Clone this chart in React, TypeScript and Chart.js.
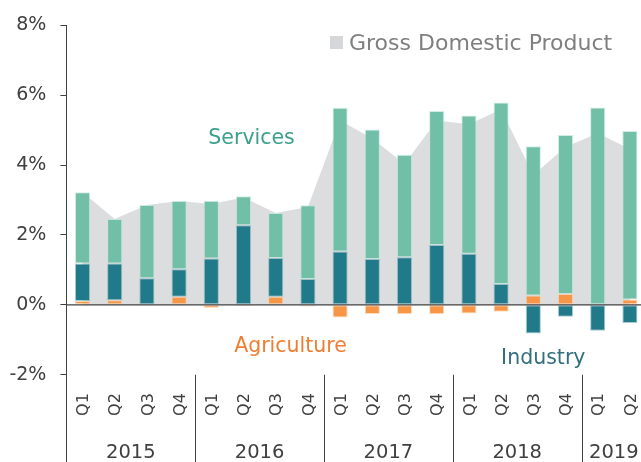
import React, { useEffect, useRef } from 'react';
import { Chart, registerables } from 'chart.js';

Chart.register(...registerables);

const quarters = ['Q1', 'Q2', 'Q3', 'Q4', 'Q1', 'Q2', 'Q3', 'Q4', 'Q1', 'Q2', 'Q3', 'Q4', 'Q1', 'Q2', 'Q3', 'Q4', 'Q1', 'Q2'];
const years = ['2015', '2016', '2017', '2018', '2019'];
const yearSpans = [4, 4, 4, 4, 2];

const agriculture = [0.11, 0.13, 0.0, 0.23, -0.09, -0.03, 0.23, -0.05, -0.36, -0.26, -0.27, -0.27, -0.25, -0.2, 0.27, 0.31, 0.0, 0.15];
const industry = [1.07, 1.05, 0.76, 0.79, 1.33, 2.28, 1.11, 0.74, 1.53, 1.31, 1.36, 1.71, 1.46, 0.6, -0.82, -0.34, -0.74, -0.52];
const services = [2.04, 1.28, 2.1, 1.95, 1.65, 0.83, 1.29, 2.11, 4.11, 3.71, 2.94, 3.84, 3.96, 5.19, 4.27, 4.55, 5.65, 4.83];
const gdp = [3.22, 2.46, 2.86, 2.97, 2.89, 3.07, 2.63, 2.8, 5.28, 4.76, 4.03, 5.28, 5.17, 5.59, 3.72, 4.52, 4.91, 4.46];

const yTicks = [-2, 0, 2, 4, 6, 8];

// annotation labels: [text, category position, value at baseline]
const seriesLabels = [
  { text: 'Services', at: 5.25, value: 4.6, color: '#3a9f8b' },
  { text: 'Agriculture', at: 6.46, value: -1.35, color: '#f07e32' },
  { text: 'Industry', at: 14.31, value: -1.7, color: '#336f7e' },
];

const FONT = "'DejaVu Sans', sans-serif";
const AXIS = '#404040';
const C_AGRI = '#f79646';
const C_IND = '#217a8a';
const C_SERV = '#70bfa6';
const C_GDP = '#dcdddf';

const overlay = {
  id: 'overlay',
  afterDraw(chart: any) {
    const { ctx, chartArea: ca, scales } = chart;
    const x = scales.x;
    const y = scales.y;
    const H = chart.height;
    const W = chart.width;
    ctx.save();

    // zero line
    const y0 = y.getPixelForValue(0);
    ctx.strokeStyle = AXIS;
    ctx.lineWidth = 1.4;
    ctx.beginPath();
    ctx.moveTo(ca.left, y0);
    ctx.lineTo(W, y0);
    ctx.stroke();

    // left axis extension & year separators
    ctx.lineWidth = 1;
    ctx.beginPath();
    ctx.moveTo(Math.round(ca.left) + 0.5, ca.bottom);
    ctx.lineTo(Math.round(ca.left) + 0.5, H);
    let idx = 0;
    const bounds: number[] = [];
    yearSpans.forEach((n, i) => {
      const start = idx;
      idx += n;
      bounds.push(start);
      if (i < yearSpans.length - 1) {
        const bx = (x.getPixelForValue(idx - 1) + x.getPixelForValue(idx)) / 2;
        ctx.moveTo(Math.round(bx) + 0.5, ca.bottom);
        ctx.lineTo(Math.round(bx) + 0.5, H);
      }
    });
    ctx.stroke();

    // quarter labels
    ctx.fillStyle = AXIS;
    ctx.font = `16px ${FONT}`;
    ctx.textAlign = 'center';
    ctx.textBaseline = 'middle';
    quarters.forEach((q, i) => {
      const px = x.getPixelForValue(i);
      ctx.save();
      ctx.translate(px + 1.5, 404.5);
      ctx.rotate(-Math.PI / 2);
      ctx.fillText(q, 0, 0);
      ctx.restore();
    });

    // year labels
    ctx.font = `19.5px ${FONT}`;
    const half = (x.getPixelForValue(1) - x.getPixelForValue(0)) / 2;
    yearSpans.forEach((n, i) => {
      const s = bounds[i];
      const left = x.getPixelForValue(s) - half;
      const right = x.getPixelForValue(s + n - 1) + half;
      ctx.fillText(years[i], (left + right) / 2, 453);
    });

    // legend
    ctx.fillStyle = '#d6d7d9';
    ctx.fillRect(330, 36, 13, 13);
    ctx.fillStyle = '#7f7f7f';
    ctx.font = `22px ${FONT}`;
    ctx.textAlign = 'left';
    ctx.textBaseline = 'alphabetic';
    ctx.fillText('Gross Domestic Product', 349, 50);

    // series labels
    ctx.font = `20.5px ${FONT}`;
    ctx.textAlign = 'center';
    seriesLabels.forEach((l) => {
      const lx = ca.left + (l.at + 0.5) * (half * 2);
      ctx.fillStyle = l.color;
      ctx.fillText(l.text, lx, y.getPixelForValue(l.value));
    });

    ctx.restore();
  },
};

export default function App() {
  const ref = useRef<HTMLCanvasElement | null>(null);
  useEffect(() => {
    if (!ref.current) return;
    const barCommon = {
      type: 'bar' as const,
      stack: 'parts',
      borderWidth: 1,
      borderSkipped: false,
      categoryPercentage: 1,
      barPercentage: 0.47,
      order: 0,
    };
    const chart = new Chart(ref.current, {
      type: 'bar',
      data: {
        labels: quarters,
        datasets: [
          { ...barCommon, label: 'Agriculture', data: agriculture, backgroundColor: C_AGRI, borderColor: 'rgba(255,200,150,0.6)' },
          { ...barCommon, label: 'Industry', data: industry, backgroundColor: C_IND, borderColor: 'rgba(110,170,180,0.6)' },
          { ...barCommon, label: 'Services', data: services, backgroundColor: C_SERV, borderColor: 'rgba(190,230,215,0.7)' },
          {
            type: 'line' as const,
            label: 'Gross Domestic Product',
            data: gdp,
            stack: 'gdp',
            fill: 'origin',
            backgroundColor: C_GDP,
            borderColor: C_GDP,
            borderWidth: 0,
            pointRadius: 0,
            tension: 0,
            order: 5,
          } as any,
        ],
      },
      options: {
        animation: false,
        responsive: false,
        maintainAspectRatio: false,
        layout: { padding: { top: 24.7, right: 14, bottom: 0, left: 0 } },
        plugins: { legend: { display: false }, tooltip: { enabled: false } },
        scales: {
          x: {
            stacked: true,
            offset: true,
            ticks: { display: false },
            grid: { display: false },
            border: { display: false },
            afterFit: (s: any) => {
              s.height = 87.3;
            },
          },
          y: {
            stacked: true,
            min: -2,
            max: 8,
            afterBuildTicks: (s: any) => {
              s.ticks = yTicks.map((v) => ({ value: v }));
            },
            ticks: {
              callback: (v: any) => `${v}%`,
              color: AXIS,
              font: { family: FONT, size: 19 },
              padding: 14,
            },
            grid: { drawOnChartArea: false, drawTicks: true, tickLength: 6, tickColor: AXIS },
            border: { display: true, color: AXIS, width: 1 },
            afterFit: (s: any) => {
              s.width = 66.4;
            },
          },
        },
      },
      plugins: [overlay],
    } as any);
    return () => chart.destroy();
  }, []);

  return (
    <div style={{ position: 'fixed', left: 0, top: 0, width: 641, height: 462, overflow: 'hidden', background: '#fff' }}>
      <canvas ref={ref} width={660} height={462} style={{ display: 'block' }} />
    </div>
  );
}
